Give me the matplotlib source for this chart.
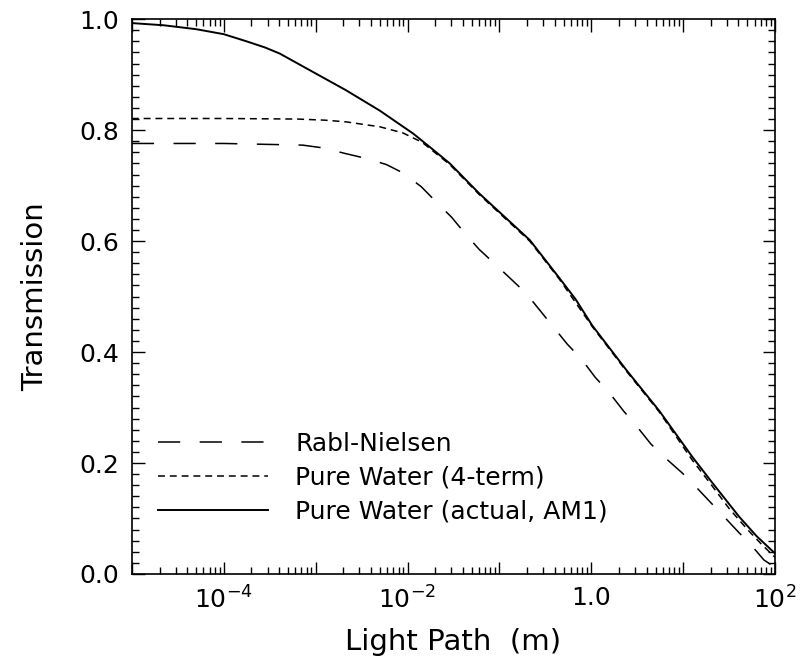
import numpy as np
import matplotlib
matplotlib.use("Agg")
import matplotlib.pyplot as plt
from matplotlib.ticker import FixedLocator, FuncFormatter, MultipleLocator, LogLocator, NullFormatter

plt.rcParams['font.family'] = ['DejaVu Sans']
plt.rcParams['mathtext.fontset'] = 'dejavusans'
plt.rcParams['lines.scale_dashes'] = False

# values (log10 of light path, transmission)
actual_logx = [-5.0, -4.65, -4.3, -4.0, -3.75, -3.55, -3.39, -3.03, -2.67, -2.30, -1.94,
               -1.76, -1.54, -1.22, -0.67, -0.35, -0.17, 0.01, 0.38, 0.74, 1.10, 1.30,
               1.61, 1.80, 2.0]
actual_T = [0.993, 0.989, 0.982, 0.973, 0.960, 0.949, 0.938, 0.905, 0.872, 0.835, 0.794,
            0.770, 0.740, 0.686, 0.602, 0.534, 0.495, 0.448, 0.368, 0.294, 0.211, 0.168,
            0.103, 0.068, 0.037]

fourterm_logx = [-5.0, -4.0, -3.2, -2.9, -2.67, -2.30, -2.05, -1.84, -1.54, -1.22, -0.67,
                 -0.35, 0.01, 0.38, 0.74, 1.10, 1.30, 1.50, 1.70, 1.85, 2.0]
fourterm_T = [0.821, 0.821, 0.820, 0.818, 0.815, 0.806, 0.795, 0.778, 0.738, 0.684, 0.600,
              0.532, 0.446, 0.366, 0.292, 0.205, 0.162, 0.118, 0.080, 0.054, 0.030]

rabl_logx = [-5.0, -4.0, -3.14, -2.92, -2.68, -2.45, -2.23, -2.05, -1.85, -1.69,
             -1.52, -1.38, -1.22, -1.05, -0.87, -0.71, -0.26, -0.10, 0.04, 0.20,
             0.35, 0.50, 0.65, 0.82, 0.99, 1.15, 1.48, 1.61, 1.74, 1.88, 2.0]
rabl_T = [0.776, 0.776, 0.773, 0.768, 0.758, 0.749, 0.738, 0.723, 0.698, 0.671,
          0.643, 0.615, 0.585, 0.559, 0.531, 0.506, 0.414, 0.386, 0.355, 0.326,
          0.294, 0.265, 0.234, 0.207, 0.182, 0.155, 0.097, 0.074, 0.052, 0.025, 0.012]

labelled_decades = {-4: r'$\mathregular{10^{-4}}$', -2: r'$\mathregular{10^{-2}}$',
                    0: '1.0', 2: r'$\mathregular{10^{2}}$'}

fig = plt.figure(figsize=(8.04, 6.62), dpi=100)
ax = fig.add_axes([0.164, 0.133, 0.8, 0.838])

ax.plot(10 ** np.array(rabl_logx), rabl_T, color='black', lw=1.1,
        dashes=(16, 14), label='Rabl-Nielsen')
ax.plot(10 ** np.array(fourterm_logx), fourterm_T, color='black', lw=1.1,
        dashes=(5, 3.5), label='Pure Water (4-term)')
ax.plot(10 ** np.array(actual_logx), actual_T, color='black', lw=1.4,
        label='Pure Water (actual, AM1)')

ax.set_xscale('log')
ax.set_xlim(1e-5, 1e2)
ax.set_ylim(0, 1.0)

ax.xaxis.set_major_locator(FixedLocator([10.0 ** k for k in range(-5, 3)]))
ax.xaxis.set_major_formatter(FuncFormatter(
    lambda v, p: labelled_decades.get(int(round(np.log10(v))), '')))
ax.xaxis.set_minor_locator(LogLocator(base=10, subs=np.arange(2, 10), numticks=20))
ax.xaxis.set_minor_formatter(NullFormatter())
ax.yaxis.set_major_locator(MultipleLocator(0.2))
ax.yaxis.set_minor_locator(MultipleLocator(0.02))
ax.yaxis.set_major_formatter(FuncFormatter(lambda v, p: '%.1f' % v))

ax.tick_params(which='both', direction='in', top=True, right=True, width=1.0)
ax.tick_params(which='major', length=9, labelsize=18)
ax.tick_params(which='minor', length=5)
ax.tick_params(axis='y', which='major', pad=9)
ax.tick_params(axis='x', which='major', pad=9)
for s in ax.spines.values():
    s.set_linewidth(1.2)

ax.set_xlabel('Light Path  (m)', fontsize=21, labelpad=10)
ax.set_ylabel('Transmission', fontsize=21, labelpad=22)

ax.legend(loc='center left', bbox_to_anchor=(0.04, 0.173), frameon=False,
          fontsize=18, handlelength=4.4, handletextpad=1.1, labelspacing=0.4,
          borderpad=0, borderaxespad=0)

fig.savefig('out.png', dpi=100)
